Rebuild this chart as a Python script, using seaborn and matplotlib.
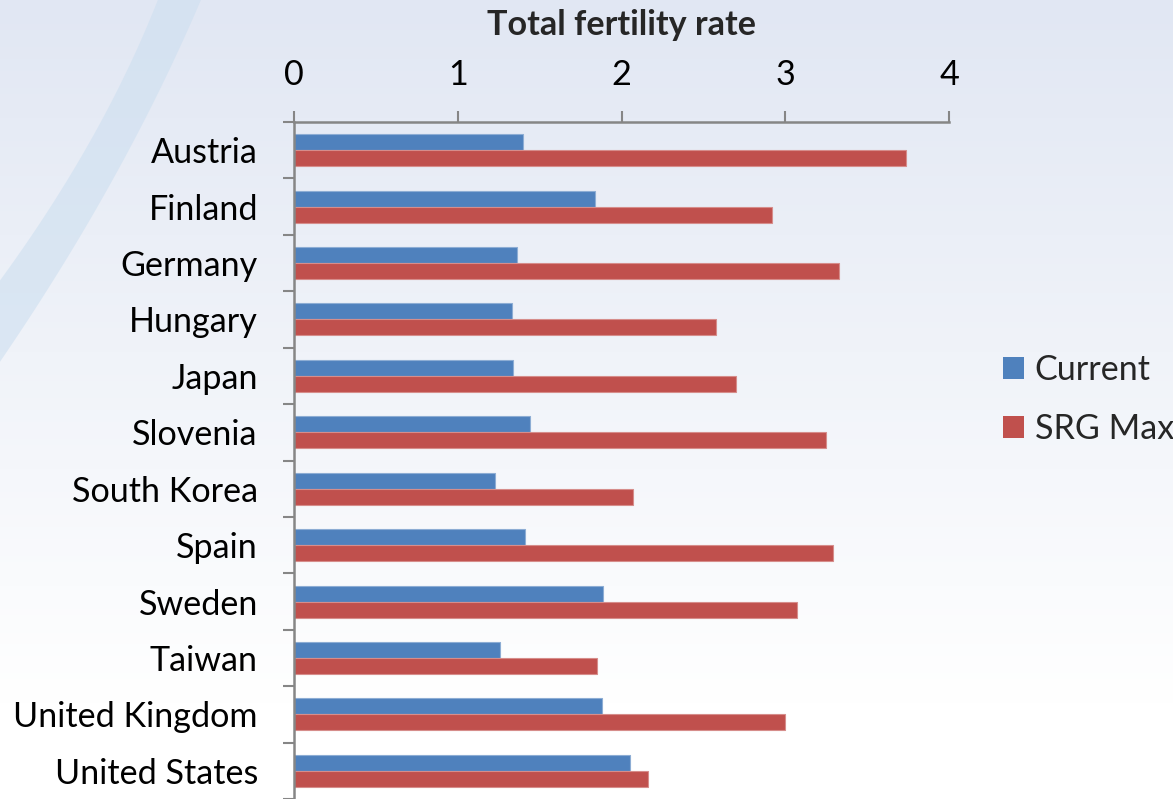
import numpy as np
import pandas as pd
import matplotlib
matplotlib.use("Agg")
import matplotlib.pyplot as plt
import matplotlib.colors as mcolors
from matplotlib.patches import Polygon, Patch
import seaborn as sns

# ---- data -------------------------------------------------------------
countries = ["Austria", "Finland", "Germany", "Hungary", "Japan", "Slovenia",
             "South Korea", "Spain", "Sweden", "Taiwan", "United Kingdom",
             "United States"]
current = [1.40, 1.84, 1.36, 1.33, 1.34, 1.44, 1.23, 1.41, 1.89, 1.26, 1.88, 2.05]
srg_max = [3.74, 2.92, 3.33, 2.58, 2.70, 3.25, 2.07, 3.29, 3.07, 1.85, 3.00, 2.16]
series = ["Current", "SRG Max"]
x_ticks = [0, 1, 2, 3, 4]
title = "Total fertility rate"

colors = ["#4f81bd", "#c0504d"]
axis_grey = "#868686"

df = pd.DataFrame({
    "Country": countries * 2,
    "Series": [series[0]] * len(countries) + [series[1]] * len(countries),
    "TFR": current + srg_max,
})

sns.set_style("white")
plt.rcParams["font.family"] = ["Lato", "DejaVu Sans"]

W, H = 1173, 799
fig = plt.figure(figsize=(W / 100, H / 100), dpi=100)

# ---- slide-style background: vertical gradient plus a soft swoosh ------
bg = fig.add_axes([0, 0, 1, 1], zorder=-10)
top = np.array([225, 231, 243]) / 255
bottom = np.array([255, 255, 255]) / 255
t = np.clip(np.linspace(0, 1, H) / 0.88, 0, 1)[:, None]
grad = top * (1 - t) + bottom * t
img = np.repeat(grad[:, None, :], 4, axis=1)
bg.imshow(img, aspect="auto", extent=(0, W, H, 0))

# smooth band edges (pixel space), fitted through a few guide points
ly, lx = [0, 100, 200, 282], [157, 115, 52, 0]
ry, rx = [0, 100, 200, 300, 363], [200, 157, 100, 40, 0]
lfit, rfit = np.polyfit(ly, lx, 2), np.polyfit(ry, rx, 2)
yl = np.linspace(-5, 300, 60)
yr = np.linspace(-5, 380, 60)
left_pts = np.column_stack([np.polyval(lfit, yl), yl])
right_pts = np.column_stack([np.polyval(rfit, yr), yr])
swoosh = Polygon(np.vstack([left_pts, right_pts[::-1]]), closed=True,
                 facecolor="#cddff0", edgecolor="none", alpha=0.6)
bg.add_patch(swoosh)
bg.set_xlim(0, W)
bg.set_ylim(H, 0)
bg.axis("off")

# ---- bars ---------------------------------------------------------------
ax = fig.add_axes([294 / W, 0, (949 - 294) / W, 1 - 122 / H])
ax.patch.set_alpha(0)
sns.barplot(data=df, y="Country", x="TFR", hue="Series", hue_order=series,
            order=countries, palette=colors, orient="h", width=0.567, gap=0,
            saturation=1, ax=ax, legend=False)
for p in ax.patches:
    fc = np.array(mcolors.to_rgb(p.get_facecolor()))
    p.set_edgecolor(tuple(fc + (1 - fc) * 0.35))
    p.set_linewidth(0.8)

# ---- axes styling --------------------------------------------------------
fs = 24.6
ax.set_xlim(0, 4)
ax.set_ylim(len(countries) - 0.5, -0.5)
ax.xaxis.tick_top()
ax.set_xticks(x_ticks)
ax.set_xticklabels([str(v) for v in x_ticks])
ax.tick_params(axis="x", which="major", direction="out", length=8, width=1.5,
               color=axis_grey, labelsize=fs, pad=14, labelcolor="black")
ax.set_yticks(range(len(countries)))
ax.set_yticklabels(countries)
ax.set_yticks(np.arange(-0.5, len(countries), 1), minor=True)
ax.tick_params(axis="y", which="major", length=0, labelsize=fs, pad=26,
               labelcolor="black")
ax.tick_params(axis="y", which="minor", direction="out", length=8, width=1.5,
               color=axis_grey, left=True)
ax.set_xlabel("")
ax.set_ylabel("")
for side in ["right", "bottom"]:
    ax.spines[side].set_visible(False)
for side in ["left", "top"]:
    ax.spines[side].set_color(axis_grey)
    ax.spines[side].set_linewidth(1.8)

fig.text((294 + 949) / 2 / W, 1 - 35 / H, title, ha="center", va="baseline",
         fontsize=fs, fontweight="bold")

handles = [Patch(facecolor=c, edgecolor="none") for c in colors]
fig.legend(handles, series, loc="center left",
           bbox_to_anchor=(1003 / W, 1 - 399.5 / H), frameon=False,
           fontsize=fs, handlelength=0.6, handleheight=0.6,
           handletextpad=0.33, labelspacing=0.78, borderpad=0,
           borderaxespad=0)

fig.savefig("out.png", dpi=100)
